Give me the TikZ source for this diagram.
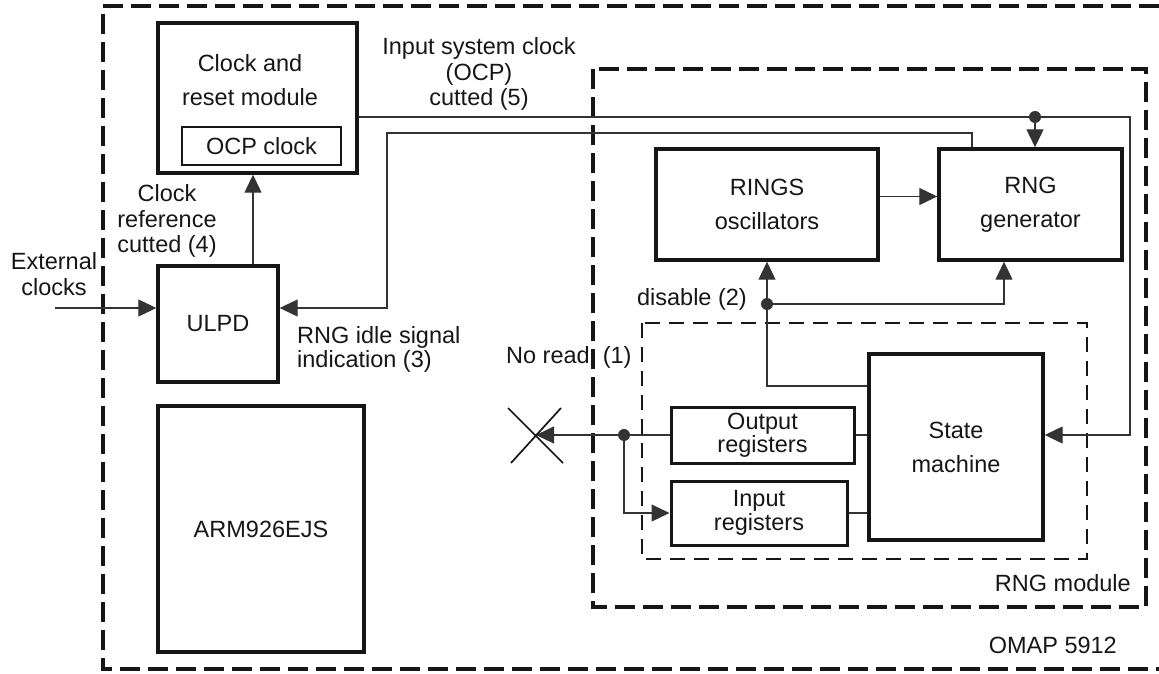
\documentclass[tikz,border=0pt]{standalone}
\usepackage{fontspec}
\setmainfont{Liberation Sans}
\usetikzlibrary{arrows.meta}

\definecolor{ink}{HTML}{161616}
\definecolor{wirecol}{HTML}{333333}

\tikzset{
  blk/.style = {draw=ink, text=ink, line width=3.4pt, inner sep=0pt, align=center, font=\fontsize{23.5}{34}\selectfont},
  reg/.style = {blk, line width=3pt, font=\fontsize{23.5}{23.5}\selectfont},
  lbl/.style = {inner sep=0pt, align=center, text=ink, font=\fontsize{23.5}{25.5}\selectfont},
  wire/.style = {draw=wirecol, line width=1.2pt},
  tip/.style = {-{Triangle[length=18pt,width=17pt]}},
  area/.style = {draw=ink, line width=3.8pt, dash pattern=on 20pt off 8pt},
  subarea/.style = {draw=ink, line width=2.6pt, dash pattern=on 15pt off 9pt},
}

\begin{document}
\begin{tikzpicture}[x=1pt, y=-1pt]
  \useasboundingbox (0,0) rectangle (1159,674);

  % OMAP 5912 outline (right side runs off the page), RNG module and its core
  \draw[area] (1159,6) -- (103,6) -- (103,669) -- (1159,669);
  \draw[area] (593,69) rectangle (1146,607);
  \draw[subarea] (642,323) rectangle (1087,559);

  % blocks
  \node[blk, minimum width=199pt, minimum height=150pt] (crm) at (257.5,98) {};
  \node[lbl, font=\fontsize{23.5}{34}\selectfont] (crmtext) at (250,80) {Clock and\\reset module};
  \node[blk, line width=2.6pt, minimum width=159pt, minimum height=38pt] (ocp) at (261.5,146) {OCP clock};
  \node[blk, minimum width=120pt, minimum height=116pt] (ulpd) at (218,324) {ULPD};
  \node[blk, minimum width=206pt, minimum height=246pt] (arm) at (261,529) {ARM926EJS};
  \node[blk, minimum width=222pt, minimum height=111pt] (rings) at (767,204.5) {RINGS\\oscillators};
  \node[blk, minimum width=183pt, minimum height=111pt] (rnggen) at (1030.5,204.5) {RNG\\generator};
  \node[blk, minimum width=174pt, minimum height=186pt] (sm) at (956,447) {State\\machine};
  \node[reg, minimum width=183pt, minimum height=56pt] (outreg) at (762.5,435) {Output\\registers};
  \node[reg, minimum width=176pt, minimum height=64pt] (inreg) at (759,513) {Input\\registers};

  % junctions and bends
  \coordinate (ext) at (55,308);
  \coordinate (idle) at (387,133);
  \coordinate (ck) at (1130,117);
  \coordinate (ckdot) at (1035,117);
  \coordinate (dis) at (767,304);
  \coordinate (split) at (624,435);
  \coordinate (noread) at (536,435);

  % clocks
  \draw[wire, tip] (ext) -- (ext -| ulpd.west);
  \draw[wire, tip] ([xshift=35pt]ulpd.north) -- ([xshift=35pt]ulpd.north |- crm.south);
  \draw[wire, tip] ([xshift=-58.5pt]rnggen.north) |- (idle) |- (ext -| ulpd.east);
  \draw[wire, tip] (crm.east |- ck) -- (ck) |- (sm.east |- outreg);
  \draw[wire, tip] (ckdot) -- (ckdot |- rnggen.north);
  \fill[wirecol] (ckdot) circle (6pt);

  % RNG core
  \draw[wire, tip] ([yshift=8pt]rings.east) -- ([yshift=8pt]rings.east -| rnggen.west);
  \draw[wire, tip] (dis) -- (dis |- rings.south);
  \draw[wire, tip] (dis) -| ([xshift=-26.5pt]rnggen.south);
  \draw[wire] (dis) |- ([yshift=61pt]sm.west);
  \fill[wirecol] (dis) circle (6pt);
  \draw[wire] (outreg.east) -- (outreg.east -| sm.west);
  \draw[wire] (inreg.east) -- (inreg.east -| sm.west);
  \draw[wire, tip] (outreg.west) -- (noread);
  \draw[wire, tip] (split) |- (inreg.west);
  \fill[wirecol] (split) circle (6pt);

  % blocked read
  \draw[ink, line width=1.7pt] (noread) +(-28,-27) -- +(27,28) (noread) +(-25,28) -- +(25,-27);

  % labels
  \node[lbl] (isc) at (479,74) {Input system clock\\(OCP)\\cutted (5)};
  \node[lbl] (cref) at (167,221) {Clock\\reference\\cutted (4)};
  \node[lbl] (extlbl) at (54,274) {External\\clocks};
  \node[lbl, align=left, anchor=north west, font=\fontsize{23.5}{24.5}\selectfont] (idlelbl) at (297,326) {RNG idle signal\\indication (3)};
  \node[lbl, anchor=base west] (nrlbl) at (506,363) {No read~~(1)};
  \node[lbl, anchor=base east] (dislbl) at (747,305) {disable (2)};
  \node[lbl, anchor=base east] (rnglbl) at (1131,591) {RNG module};
  \node[lbl, anchor=base east] (omaplbl) at (1117,653) {OMAP 5912};
\end{tikzpicture}
\end{document}
